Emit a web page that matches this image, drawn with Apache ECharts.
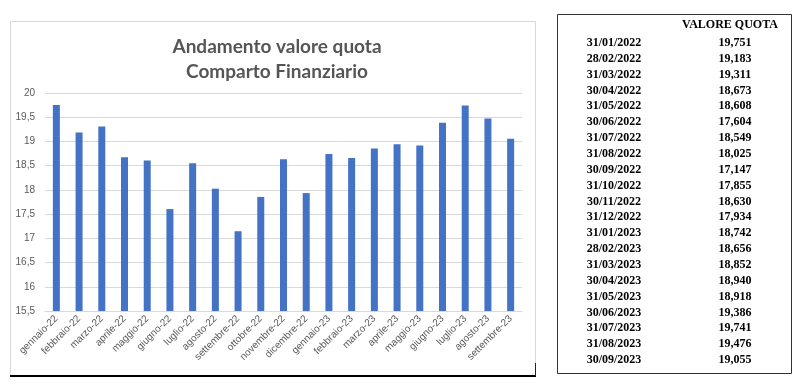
<!DOCTYPE html>
<html>
<head>
<meta charset="utf-8">
<script src="https://cdn.jsdelivr.net/npm/echarts@6/dist/echarts.min.js"></script>
<style>
html,body{margin:0;padding:0;background:#fff;}
#c{width:800px;height:386px;}
</style>
</head>
<body>
<div id="c"></div>
<script>
const categories = ['gennaio-22','febbraio-22','marzo-22','aprile-22','maggio-22','giugno-22','luglio-22','agosto-22','settembre-22','ottobre-22','novembre-22','dicembre-22','gennaio-23','febbraio-23','marzo-23','aprile-23','maggio-23','giugno-23','luglio-23','agosto-23','settembre-23'];
const values = [19.751,19.183,19.311,18.673,18.608,17.604,18.549,18.025,17.147,17.855,18.630,17.934,18.742,18.656,18.852,18.940,18.918,19.386,19.741,19.476,19.055];
const dates = ['31/01/2022','28/02/2022','31/03/2022','30/04/2022','31/05/2022','30/06/2022','31/07/2022','31/08/2022','30/09/2022','31/10/2022','30/11/2022','31/12/2022','31/01/2023','28/02/2023','31/03/2023','30/04/2023','31/05/2023','30/06/2023','31/07/2023','31/08/2023','30/09/2023'];
const titleLines = ['Andamento valore quota','Comparto Finanziario'];
const tableHeader = 'VALORE QUOTA';
const yMin = 15.5, yMax = 20, yStep = 0.5;

const chart = echarts.init(document.getElementById('c'), null, {renderer:'canvas'});
const fmt = v => String(v).replace('.', ',');

const graphics = [
  // chart frame
  {type:'rect', shape:{x:10.5,y:21.5,width:525,height:354}, style:{fill:'none',stroke:'#d9d9d9',lineWidth:1}, silent:true},
  {type:'line', shape:{x1:10,y1:376,x2:536,y2:376}, style:{stroke:'#000',lineWidth:2}, silent:true},
  {type:'line', shape:{x1:535.5,y1:363,x2:535.5,y2:376}, style:{stroke:'#222',lineWidth:1}, silent:true},
  // table frame
  {type:'rect', shape:{x:557.5,y:14.5,width:234,height:359}, style:{fill:'none',stroke:'#333',lineWidth:1}, silent:true},
  {type:'text', style:{text:tableHeader, x:730, y:25, align:'center', verticalAlign:'middle', font:'bold 12px "Liberation Serif"', fill:'#000'}, silent:true}
];
dates.forEach((d, i) => {
  const y = 43 + i * 15.85;
  graphics.push({type:'text', style:{text:d, x:614, y:y, align:'center', verticalAlign:'middle', font:'bold 12px "Liberation Serif"', fill:'#000'}, silent:true});
  graphics.push({type:'text', style:{text:values[i].toFixed(3).replace('.', ','), x:735, y:y, align:'center', verticalAlign:'middle', font:'bold 12px "Liberation Serif"', fill:'#000'}, silent:true});
});

chart.setOption({
  animation:false,
  title:{
    text: titleLines.join('\n'),
    left: 272, top: 29, textAlign:'center',
    textStyle:{fontFamily:'Lato', fontWeight:'bold', fontSize:19, color:'#555555', lineHeight:25}
  },
  grid:{left:45, right:278, top:93, bottom:75, containLabel:false},
  xAxis:{
    type:'category', data:categories,
    axisLine:{show:true, lineStyle:{color:'#d9d9d9'}},
    axisTick:{show:false},
    axisLabel:{interval:0, rotate:45, fontFamily:'Liberation Sans', fontSize:10, color:'#595959', margin:6}
  },
  yAxis:{
    type:'value', min:yMin, max:yMax, interval:yStep,
    axisLine:{show:false}, axisTick:{show:false},
    splitLine:{lineStyle:{color:'#d9d9d9'}},
    axisLabel:{formatter:fmt, fontFamily:'Liberation Sans', fontSize:10, color:'#595959', margin:10}
  },
  series:[{
    type:'bar', data:values, barWidth:7,
    itemStyle:{color:'#4472C4'}
  }],
  graphic: graphics
});
</script>
</body>
</html>
